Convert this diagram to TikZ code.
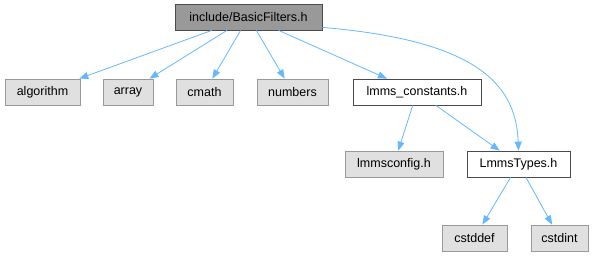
\documentclass[tikz,border=0pt]{standalone}
\usepackage{fontspec}
\setmainfont{Liberation Sans}
\usepackage{xcolor}
\usepackage{tikz}
\usetikzlibrary{arrows.meta, positioning}

\definecolor{edgeblue}{HTML}{63B8FF}
\definecolor{rootgray}{HTML}{999999}
\definecolor{sysgray}{HTML}{E0E0E0}

\begin{document}
\begin{tikzpicture}[
    x=1pt, y=-1pt,
    font=\fontsize{12.5}{15}\selectfont,
    header/.style={rectangle, draw=gray!60!black, fill=white, line width=0.8pt, minimum height=26pt, inner sep=0pt},
    rootfile/.style={header, fill=rootgray},
    sysfile/.style={header, draw=rootgray, fill=sysgray},
    incl/.style={draw=edgeblue, line width=0.8pt, -{Triangle[length=9pt, width=7pt]}}
]
    \useasboundingbox (0,0) rectangle (597,257);

    % Nodes
    % File being documented
    \node [rootfile, minimum width=147pt] (basic) at (248.5,17) {include/BasicFilters.h};

    % Direct includes
    \node [sysfile, minimum width=75pt] (algorithm) at (42.5,92) {algorithm};
    \node [sysfile, minimum width=50pt] (array) at (128,92) {array};
    \node [sysfile, minimum width=57pt] (cmath) at (204.5,92) {cmath};
    \node [sysfile, minimum width=71pt] (numbers) at (292.5,92) {numbers};
    \node [header, minimum width=128pt] (consts) at (417,92) {lmms\_constants.h};

    % Second level
    \node [sysfile, minimum width=98pt] (config) at (394,164) {lmmsconfig.h};
    \node [header, minimum width=103pt] (types) at (518.5,164) {LmmsTypes.h};

    % Third level
    \node [sysfile, minimum width=65pt] (cstddef) at (474.5,238) {cstddef};
    \node [sysfile, minimum width=57pt] (cstdint) at (559.5,238) {cstdint};

    % Connections
    \draw [incl] (basic) -- (algorithm);
    \draw [incl] (basic) -- (array);
    \draw [incl] (basic) -- (cmath);
    \draw [incl] (basic) -- (numbers);
    \draw [incl] (basic) -- (consts);
    % BasicFilters.h also pulls in LmmsTypes.h directly
    \draw [incl] (basic.-8) .. controls (470,40) and (516,80) .. (types.north);

    \draw [incl] (consts) -- (config);
    \draw [incl] (consts) -- (types);

    \draw [incl] (types) -- (cstddef);
    \draw [incl] (types) -- (cstdint);

\end{tikzpicture}
\end{document}
